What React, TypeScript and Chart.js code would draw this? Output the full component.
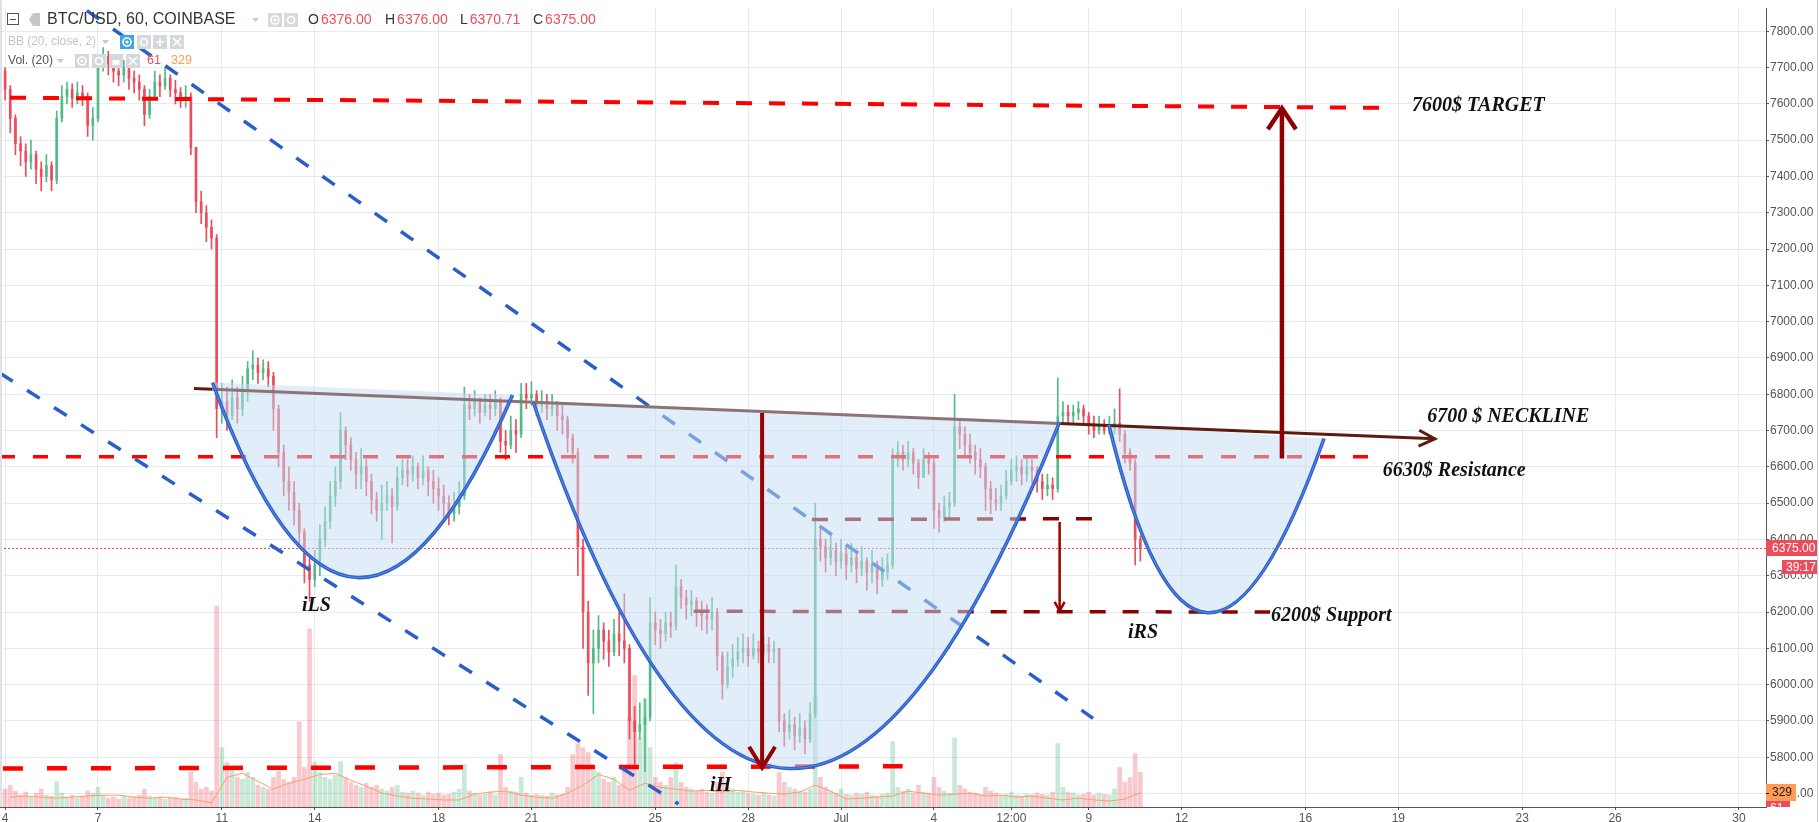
import React, { useEffect, useRef } from 'react';
import { Chart, registerables } from 'chart.js';

Chart.register(...registerables);

// ---------------- data ----------------
// time unit: days after Jun 1 00:00; 4-hour candles
const START_DAY = 17 / 6; // Jun 3 20:00
const BAR_DAYS = 1 / 6;
const FIRST_OPEN = 7700;

const closes = [
  7690, 7640, 7560, 7490, 7470, 7440, 7460, 7420, 7400, 7430, 7390,
  7560, 7620, 7640, 7615, 7630, 7620, 7540, 7560,
  7700, 7730, 7710, 7690, 7680, 7700, 7670, 7660, 7640, 7570, 7620, 7660, 7650, 7670, 7640, 7630, 7610, 7620,
  7480, 7330, 7300, 7260, 7230, 6760, 6780, 6740, 6790, 6760, 6810, 6870, 6880, 6860, 6870, 6850,
  6760, 6640, 6560, 6530, 6480, 6420, 6330, 6290, 6330, 6400, 6450, 6520, 6560,
  6700, 6660, 6620, 6580, 6600, 6560, 6510, 6480, 6500, 6520, 6490, 6570, 6590, 6580, 6600, 6570, 6590, 6560, 6540, 6520, 6500, 6470, 6490, 6520,
  6770, 6760, 6780, 6750, 6770, 6760, 6780, 6670, 6660, 6700, 6690, 6800, 6790, 6800, 6770, 6780, 6760, 6770, 6740, 6730, 6680,
  6640, 6380, 6200, 6060, 6100, 6150, 6120, 6090, 6140, 6120, 6100, 5900, 5870, 5890, 5910, 6170, 6150, 6140, 6170, 6160,
  6270, 6240, 6220, 6230, 6200, 6190, 6180, 6200, 6080, 6000, 6050, 6070, 6090, 6100, 6080, 6100, 6090, 6110, 6090, 6100, 5900, 5870, 5890, 5860, 5880, 5850, 5920,
  6400, 6380, 6350, 6370, 6340, 6360, 6330, 6350, 6320, 6340, 6310, 6330, 6290, 6310, 6330,
  6620, 6640, 6620, 6640, 6610, 6570, 6620, 6610, 6480, 6460, 6490, 6500,
  6710, 6690, 6660, 6640, 6620, 6600, 6540, 6510, 6500, 6520, 6560, 6590, 6600, 6580, 6600, 6590, 6560, 6540, 6550, 6540,
  6740, 6750, 6740, 6750, 6760, 6740, 6720, 6700, 6710, 6700, 6710, 6720, 6690, 6640, 6610, 6400, 6375,
];

const highs = [
  7745, 7700, 7650, 7570, 7510, 7490, 7500, 7470, 7440, 7460, 7440,
  7580, 7650, 7660, 7655, 7660, 7650, 7630, 7590,
  7720, 7755, 7745, 7725, 7710, 7720, 7710, 7690, 7680, 7650, 7640, 7690, 7680, 7700, 7680, 7665, 7645, 7650,
  7630, 7480, 7360, 7320, 7280, 7240, 6830, 6820, 6840, 6820, 6850, 6890, 6920, 6900, 6895, 6890,
  6860, 6770, 6660, 6600, 6560, 6500, 6430, 6350, 6370, 6440, 6490, 6560, 6600,
  6750, 6710, 6680, 6640, 6650, 6620, 6580, 6530, 6550, 6560, 6540, 6600, 6620, 6620, 6630, 6610, 6630, 6600, 6590, 6570, 6550, 6520, 6530, 6560,
  6820, 6800, 6810, 6790, 6800, 6800, 6810, 6790, 6700, 6740, 6730, 6830, 6830, 6835, 6810, 6810, 6800, 6800, 6780, 6770, 6740,
  6690, 6650, 6400, 6230, 6150, 6190, 6170, 6150, 6180, 6200, 6250, 6110, 5940, 5950, 5960, 6240, 6200, 6180, 6200, 6200,
  6330, 6290, 6260, 6260, 6240, 6230, 6220, 6240, 6210, 6090, 6090, 6110, 6130, 6140, 6130, 6140, 6120, 6135, 6130, 6120, 6100, 5920, 5930, 5910, 5920, 5900, 5950,
  6500, 6430, 6400, 6410, 6390, 6400, 6380, 6390, 6370, 6380, 6350, 6370, 6340, 6350, 6360,
  6650, 6670, 6660, 6670, 6650, 6620, 6650, 6640, 6620, 6500, 6520, 6530,
  6800, 6730, 6710, 6690, 6660, 6650, 6610, 6560, 6540, 6550, 6590, 6620, 6630, 6620, 6630, 6620, 6600, 6580, 6580, 6570,
  6845, 6780, 6770, 6770, 6780, 6770, 6750, 6740, 6740, 6730, 6740, 6760, 6815, 6700, 6650, 6620, 6410,
];

const lows = [
  7660, 7610, 7520, 7460, 7430, 7400, 7420, 7380, 7360, 7385, 7360,
  7380, 7550, 7600, 7590, 7600, 7595, 7510, 7500,
  7550, 7690, 7680, 7660, 7650, 7660, 7640, 7630, 7610, 7540, 7560, 7620, 7620, 7640, 7620, 7600, 7590, 7590,
  7460, 7300, 7270, 7220, 7200, 6680, 6720, 6700, 6730, 6720, 6740, 6780, 6840, 6830, 6840, 6820,
  6700, 6600, 6520, 6480, 6440, 6380, 6280, 6230, 6270, 6300, 6380, 6430, 6490,
  6540, 6620, 6590, 6540, 6540, 6520, 6470, 6450, 6400, 6480, 6390, 6480, 6550, 6545, 6560, 6540, 6550, 6520, 6500, 6480, 6460, 6440, 6450, 6470,
  6510, 6730, 6740, 6720, 6740, 6730, 6740, 6640, 6620, 6650, 6640, 6680, 6760, 6770, 6740, 6750, 6730, 6740, 6700, 6690, 6640,
  6610, 6300, 6100, 5970, 5920, 6060, 6070, 6050, 6080, 6080, 6060, 5850, 5780, 5850, 5760, 5900, 6110, 6100, 6120, 6130,
  6150, 6210, 6180, 6190, 6160, 6150, 6140, 6150, 6040, 5960, 5990, 6020, 6050, 6060, 6050, 6070, 6060, 6080, 6060, 6060, 5870, 5830, 5850, 5820, 5840, 5810, 5840,
  5910, 6340, 6310, 6330, 6300, 6320, 6290, 6310, 6280, 6300, 6260, 6280, 6250, 6270, 6290,
  6320, 6600, 6590, 6600, 6580, 6540, 6570, 6580, 6430, 6420, 6450, 6460,
  6490, 6650, 6630, 6610, 6580, 6570, 6480, 6470, 6480, 6480, 6510, 6550, 6560, 6550, 6560, 6555, 6530, 6510, 6520, 6510,
  6530, 6720, 6720, 6720, 6730, 6720, 6690, 6680, 6690, 6690, 6690, 6690, 6670, 6610, 6590, 6330, 6340,
];

const volumes = [
  315, 405, 495, 360, 270, 340, 225, 315, 405, 270, 250,
  585,
  315, 225, 270, 200, 250, 360, 315,
  450,
  270, 200, 225, 180, 250, 200, 225, 270, 405, 250, 200, 225, 180, 200, 225, 180, 200,
  790,
  560, 405, 450, 360,
  4570,
  1350, 1010, 855, 675, 630, 790, 675, 495, 450, 405,
  675, 810, 630, 560, 675, 1935, 900,
  4050,
  1010, 790, 675, 630, 720,
  1035,
  675, 560, 495, 450, 540, 450, 495, 405, 360, 450, 495, 340, 315, 360, 315, 270, 340, 290, 315, 270, 290, 340, 405,
  970,
  360, 315, 270, 290, 340, 270,
  1190,
  450, 360, 340,
  675,
  315, 270, 290, 270, 250, 315, 270, 290, 450,
  1190,
  1440,
  1350, 1240, 900, 790, 630, 560, 675, 495, 900,
  2025,
  2990,
  1575, 2475, 1350,
  675, 560, 495, 675, 1010, 560, 450, 405, 360, 405, 340, 315, 560, 790, 450, 405, 340, 360, 315, 290, 270, 315, 270, 250, 790, 560, 450, 405, 360, 340, 405,
  2540,
  675, 450, 360, 315, 405, 290, 270, 315, 290, 340, 270, 250, 290, 315,
  1485,
  450, 360, 405, 315, 495, 340, 315, 675, 450, 360, 315,
  1575,
  495, 405, 340, 315, 290, 450, 360, 315, 270, 290, 340, 270, 250, 290, 270, 315, 290, 270, 340,
  1440,
  450, 340, 315, 270, 290, 340, 270, 315, 290, 270, 405,
  900,
  560, 675, 1215, 790,
];

// Vol MA(20), read every 3rd candle starting at candle 2
const VOL_MA_FIRST = 2;
const VOL_MA_EVERY = 3;
const volMA = [
  225, 250, 225, 200, 225, 250, 270, 270, 225, 200, 225, 180, 160, 90,
  675, 765, 585, 405, 540, 630, 740, 765, 610, 470, 315, 250, 200, 180, 160, 160,
  290, 340, 360, 270, 225, 200, 315, 495, 740, 630, 380, 540, 450, 405, 360, 380,
  340, 380, 340, 315, 290, 340, 495, 360, 180, 200, 225, 250, 360, 315, 270, 290,
  315, 250, 270, 225, 250, 200, 160, 200, 160, 135, 180, 329,
];

const LAST_PRICE = 6375;
const LAST_VOL = 61;
const LAST_VOL_MA = 329;
const COUNTDOWN = '39:17';

const priceTicks = [
  5700, 5800, 5900, 6000, 6100, 6200, 6300, 6400, 6500, 6600, 6700,
  6800, 6900, 7000, 7100, 7200, 7300, 7400, 7500, 7600, 7700, 7800,
];
const dayTicks = [3, 6, 10, 13, 17, 20, 24, 27, 30, 33, 35.5, 38, 41, 45, 48, 52, 55, 59];
const dayTickLabels = ['4', '7', '11', '14', '18', '21', '25', '28', 'Jul', '4', '12:00', '9', '12', '16', '19', '23', '26', '30'];

const SYMBOL = 'BTC/USD, 60, COINBASE';
const ohlcLetters = ['O', 'H', 'L', 'C'];
const ohlcValues = ['6376.00', '6376.00', '6370.71', '6375.00'];
const BB_TITLE = 'BB (20, close, 2)';
const VOL_TITLE = 'Vol. (20)';

// ---------------- drawings (day, price) ----------------
const targetLevel = [[3.16, 7617], [47.41, 7589]];
const resistanceLevel = [[2.835, 6628], [47.05, 6628]];
const floorLevel = [[2.93, 5769], [31.99, 5775]];
const midLevel = [[29.06, 6455], [38.14, 6457]];
const supportLevel = [[25.24, 6202], [43.86, 6200]];
const upperTrend = [[5.64, 7857], [38.14, 5907]];
const lowerTrend = [[2.835, 6858], [24.75, 5671]];
const neckline = [[9.1, 6816], [49.18, 6677]];
const necklineFadedSpan = [9.7, 37.06];
const curveLS = [[9.7, 6832], [14.2, 5775], [19.39, 6798]];
const curveHead = [[20.06, 6778], [28.02, 4787], [37.06, 6724]];
const curveRS = [[38.65, 6716], [41.52, 5699], [45.6, 6678]];
const headArrow = [[27.45, 6748], [27.45, 5771]];
const smallArrow = [[37.06, 6448], [37.06, 6203]];
const targetArrow = [[44.24, 6623], [44.24, 7588]];
const textLabels = [
  { text: '7600$ TARGET', at: [48.44, 7594] },
  { text: '6700 $ NECKLINE', at: [48.93, 6738] },
  { text: '6630$ Resistance', at: [47.5, 6589] },
  { text: '6200$ Support', at: [43.89, 6189] },
  { text: 'iLS', at: [12.59, 6216] },
  { text: 'iH', at: [25.77, 5720] },
  { text: 'iRS', at: [39.27, 6143] },
];

// ---------------- layout / style ----------------
const W = 1819;
const H = 822;
const X_MIN = 2.835;
const X_MAX = 59.875;
const Y_MIN = 5662.8;
const Y_MAX = 7863.5;
const VOL_MAX = 18160;
const UP = '#53b987';
const DOWN = '#eb4d5c';
const GRID = '#e4ebf1';
const AXIS = '#555555';
const SANS = '"Liberation Sans", Arial, sans-serif';
const SERIF = '"Liberation Serif", "Times New Roman", serif';

type P = number[];

const drawingsPlugin = {
  id: 'drawings',
  afterDatasetsDraw(chart: any) {
    const { ctx, chartArea: a } = chart;
    const sx = chart.scales.x;
    const sy = chart.scales.y;
    const X = (d: number) => sx.getPixelForValue(d);
    const Y = (p: number) => sy.getPixelForValue(p);
    ctx.save();
    ctx.beginPath();
    ctx.rect(a.left, a.top, a.right - a.left, a.bottom - a.top);
    ctx.clip();

    const seg = (p0: P, p1: P, color: string, width: number, dash: number[]) => {
      ctx.beginPath();
      ctx.setLineDash(dash);
      ctx.lineDashOffset = 0;
      ctx.strokeStyle = color;
      ctx.lineWidth = width;
      ctx.lineCap = 'butt';
      ctx.moveTo(X(p0[0]), Y(p0[1]));
      ctx.lineTo(X(p1[0]), Y(p1[1]));
      ctx.stroke();
    };

    // last price dotted line
    seg([X_MIN, LAST_PRICE], [X_MAX, LAST_PRICE], DOWN, 1, [2, 2]);

    // horizontal levels
    seg(targetLevel[0], targetLevel[1], '#ff0000', 4, [16, 17]);
    seg(resistanceLevel[0], resistanceLevel[1], '#ff0000', 3.5, [15, 18]);
    seg(floorLevel[0], floorLevel[1], '#ff0000', 4.5, [20, 24]);
    seg(midLevel[0], midLevel[1], '#8b0000', 3.5, [16, 17]);
    seg(supportLevel[0], supportLevel[1], '#8b0000', 3.5, [16, 17]);
    // trend lines
    seg(upperTrend[0], upperTrend[1], '#2a5ec9', 3.5, [15, 17]);
    seg(lowerTrend[0], lowerTrend[1], '#2a5ec9', 3.5, [15, 17]);

    ctx.setLineDash([]);
    const curvePath = (c: P[]) => {
      ctx.beginPath();
      ctx.moveTo(X(c[0][0]), Y(c[0][1]));
      ctx.quadraticCurveTo(X(c[1][0]), Y(c[1][1]), X(c[2][0]), Y(c[2][1]));
    };
    // fills
    for (const c of [curveLS, curveHead, curveRS]) {
      curvePath(c);
      ctx.closePath();
      ctx.fillStyle = 'rgba(198,221,243,0.52)';
      ctx.fill();
    }

    // neckline
    const nAt = (d: number) => {
      const [a0, a1] = neckline;
      return a0[1] + ((a1[1] - a0[1]) * (d - a0[0])) / (a1[0] - a0[0]);
    };
    const f0 = necklineFadedSpan[0];
    const f1 = necklineFadedSpan[1];
    seg(neckline[0], [f0, nAt(f0)], '#5e1c10', 3, []);
    seg([f0, nAt(f0)], [f1, nAt(f1)], '#8d7474', 3, []);
    seg([f1, nAt(f1)], neckline[1], '#5e1c10', 3, []);
    const chevron = (from: P, to: P, len: number, half: number, color: string, width: number) => {
      const x0 = X(from[0]), y0 = Y(from[1]), x1 = X(to[0]), y1 = Y(to[1]);
      const L = Math.hypot(x1 - x0, y1 - y0);
      const ux = (x1 - x0) / L, uy = (y1 - y0) / L;
      const nx = -uy, ny = ux;
      ctx.beginPath();
      ctx.setLineDash([]);
      ctx.strokeStyle = color;
      ctx.lineWidth = width;
      ctx.lineCap = 'butt';
      ctx.lineJoin = 'miter';
      ctx.moveTo(x1 - ux * len + nx * half, y1 - uy * len + ny * half);
      ctx.lineTo(x1, y1);
      ctx.lineTo(x1 - ux * len - nx * half, y1 - uy * len - ny * half);
      ctx.stroke();
    };
    chevron(neckline[0], neckline[1], 16, 8, '#5e1c10', 3);

    // curve strokes
    for (const c of [curveLS, curveHead, curveRS]) {
      curvePath(c);
      ctx.strokeStyle = '#2e61cc';
      ctx.lineWidth = 3.6;
      ctx.stroke();
      curvePath(c);
      ctx.strokeStyle = 'rgba(120,165,232,0.6)';
      ctx.lineWidth = 1;
      ctx.stroke();
    }

    // arrows
    const arrow = (ar: P[], color: string, width: number, len: number, half: number) => {
      seg(ar[0], ar[1], color, width, []);
      chevron(ar[0], ar[1], len, half, color, width);
    };
    arrow(headArrow, '#990000', 4, 21, 13);
    arrow(smallArrow, '#990000', 2.5, 9, 5);
    arrow(targetArrow, '#8f0000', 4.5, 21, 14);

    // text labels
    ctx.fillStyle = '#111111';
    ctx.font = `italic bold 20px ${SERIF}`;
    ctx.textBaseline = 'middle';
    ctx.textAlign = 'left';
    for (const t of textLabels) {
      ctx.fillText(t.text, X(t.at[0]), Y(t.at[1]));
    }
    ctx.restore();
  },
  afterDraw(chart: any) {
    const { ctx, chartArea: a } = chart;
    const sy = chart.scales.y;
    const sv = chart.scales.yVol;
    ctx.save();
    // panel edges
    ctx.fillStyle = '#dfe3e8';
    ctx.fillRect(0, 0, 2, a.bottom);
    ctx.fillStyle = '#c9ccd1';
    ctx.fillRect(W - 2, 0, 1, H);

    // price label boxes
    ctx.font = `12px ${SANS}`;
    ctx.textBaseline = 'middle';
    ctx.textAlign = 'left';
    const yl = Math.round(sy.getPixelForValue(LAST_PRICE));
    ctx.fillStyle = DOWN;
    ctx.fillRect(a.right, yl - 8, 51, 16);
    ctx.fillStyle = '#ffffff';
    ctx.fillText(LAST_PRICE.toFixed(2), a.right + 6, yl + 0.5);
    ctx.fillStyle = DOWN;
    ctx.fillRect(a.right + 16, yl + 12, 35, 14);
    ctx.fillStyle = '#ffffff';
    ctx.fillText(COUNTDOWN, a.right + 20, yl + 19.5);

    // volume label boxes
    ctx.save();
    ctx.beginPath();
    ctx.rect(a.right, 0, 60, a.bottom);
    ctx.clip();
    const yv = sv.getPixelForValue(LAST_VOL);
    ctx.fillStyle = DOWN;
    ctx.fillRect(a.right, yv - 4, 24, 16);
    ctx.fillStyle = '#ffffff';
    ctx.fillText(String(LAST_VOL), a.right + 4, yv + 4);
    const ym = Math.round(sv.getPixelForValue(LAST_VOL_MA));
    ctx.fillStyle = '#ff9b57';
    ctx.fillRect(a.right, ym - 9, 30, 17);
    ctx.fillStyle = '#1e1e1e';
    ctx.fillText(String(LAST_VOL_MA), a.right + 6, ym);
    ctx.fillRect(a.right, ym, 3, 1);
    ctx.restore();

    // ---- header ----
    const tri = (x: number, y: number) => {
      ctx.fillStyle = '#c6c8cc';
      ctx.beginPath();
      ctx.moveTo(x, y - 2);
      ctx.lineTo(x + 7, y - 2);
      ctx.lineTo(x + 3.5, y + 2);
      ctx.closePath();
      ctx.fill();
    };
    const iconBox = (x: number, y: number, color: string, glyph: string) => {
      ctx.fillStyle = color;
      ctx.fillRect(x, y, 14, 14);
      ctx.strokeStyle = '#ffffff';
      ctx.fillStyle = '#ffffff';
      ctx.lineWidth = 1.6;
      const cx = x + 7, cy = y + 7;
      ctx.beginPath();
      if (glyph === 'eye') {
        ctx.arc(cx, cy, 4, 0, Math.PI * 2);
        ctx.stroke();
        ctx.beginPath();
        ctx.arc(cx, cy, 1.6, 0, Math.PI * 2);
        ctx.fill();
      } else if (glyph === 'gear') {
        ctx.arc(cx, cy, 3.5, 0, Math.PI * 2);
        ctx.stroke();
      } else if (glyph === 'plus') {
        ctx.moveTo(cx - 4, cy); ctx.lineTo(cx + 4, cy);
        ctx.moveTo(cx, cy - 4); ctx.lineTo(cx, cy + 4);
        ctx.stroke();
      } else if (glyph === 'x') {
        ctx.moveTo(cx - 4, cy - 4); ctx.lineTo(cx + 4, cy + 4);
        ctx.moveTo(cx + 4, cy - 4); ctx.lineTo(cx - 4, cy + 4);
        ctx.stroke();
      } else if (glyph === 'lock') {
        ctx.rect(cx - 3.5, cy - 1, 7, 5);
        ctx.fill();
      }
    };

    // collapse box
    ctx.strokeStyle = '#555';
    ctx.lineWidth = 1;
    ctx.strokeRect(7.5, 13.5, 11, 11);
    ctx.beginPath();
    ctx.moveTo(10, 19.5);
    ctx.lineTo(16, 19.5);
    ctx.stroke();
    // flag
    ctx.fillStyle = '#c4c7cc';
    ctx.beginPath();
    ctx.moveTo(29, 19.5);
    ctx.lineTo(33, 13);
    ctx.lineTo(40, 13);
    ctx.lineTo(40, 26);
    ctx.lineTo(33, 26);
    ctx.closePath();
    ctx.fill();

    ctx.textBaseline = 'middle';
    ctx.textAlign = 'left';
    ctx.font = `16px ${SANS}`;
    ctx.fillStyle = '#333333';
    ctx.fillText(SYMBOL, 47, 20, 199);
    tri(252, 20);
    iconBox(268, 13, '#d8dadd', 'eye');
    iconBox(284, 13, '#d8dadd', 'gear');
    const ohlcX = [308, 385, 460, 533];
    ctx.font = `14px ${SANS}`;
    ohlcLetters.forEach((L, i) => {
      ctx.fillStyle = '#333333';
      ctx.fillText(L, ohlcX[i], 20);
      const w = ctx.measureText(L).width;
      ctx.fillStyle = DOWN;
      ctx.fillText(ohlcValues[i], ohlcX[i] + w + 2, 20);
    });

    // BB row
    ctx.font = `12.5px ${SANS}`;
    ctx.fillStyle = '#c2c4c8';
    ctx.fillText(BB_TITLE, 8, 42, 88);
    tri(102, 42);
    iconBox(120, 35, '#3ea6df', 'eye');
    iconBox(137, 35, '#d6d9dc', 'gear');
    iconBox(153, 35, '#d6d9dc', 'plus');
    iconBox(170, 35, '#d6d9dc', 'x');

    // Volume row
    ctx.font = `12.5px ${SANS}`;
    ctx.fillStyle = '#555555';
    ctx.fillText(VOL_TITLE, 8, 61, 45);
    tri(57, 61);
    iconBox(75, 54, '#d6d9dc', 'eye');
    iconBox(92, 54, '#d6d9dc', 'gear');
    iconBox(109, 54, '#d6d9dc', 'lock');
    iconBox(126, 54, '#d6d9dc', 'x');
    ctx.fillStyle = DOWN;
    ctx.fillText(String(LAST_VOL), 147, 61);
    ctx.fillStyle = '#ff9b57';
    ctx.fillText(String(LAST_VOL_MA), 171, 61);
    ctx.restore();
  },
};

export default function App() {
  const ref = useRef<HTMLCanvasElement>(null);
  useEffect(() => {
    document.body.style.margin = '0';
    const days = closes.map((_, i) => START_DAY + i * BAR_DAYS);
    const opens = closes.map((_, i) => (i === 0 ? FIRST_OPEN : closes[i - 1]));
    const isUp = closes.map((c, i) => c >= opens[i]);
    const candleColors = isUp.map((u) => (u ? UP : DOWN));
    const volColors = isUp.map((u) => (u ? 'rgba(83,185,135,0.32)' : 'rgba(235,77,92,0.3)'));

    const chart = new Chart(ref.current as HTMLCanvasElement, {
      type: 'bar',
      data: {
        datasets: [
          {
            type: 'bar',
            data: volumes.map((v, i) => ({ x: days[i], y: v })),
            yAxisID: 'yVol',
            backgroundColor: volColors,
            borderWidth: 0,
            barThickness: 4,
            grouped: false,
            order: 10,
          } as any,
          {
            type: 'line',
            data: volMA.map((m, k) => ({ x: days[VOL_MA_FIRST + k * VOL_MA_EVERY], y: m })),
            yAxisID: 'yVol',
            borderColor: '#f9a062',
            borderWidth: 1,
            pointRadius: 0,
            tension: 0,
            order: 9,
          } as any,
          {
            type: 'bar',
            data: lows.map((l, i) => ({ x: days[i], y: [l, highs[i]] })),
            yAxisID: 'y',
            backgroundColor: candleColors,
            borderWidth: 0,
            barThickness: 1,
            grouped: false,
            order: 2,
          } as any,
          {
            type: 'bar',
            data: closes.map((c, i) => ({ x: days[i], y: [opens[i], c] })),
            yAxisID: 'y',
            backgroundColor: candleColors,
            borderWidth: 0,
            barThickness: 2,
            grouped: false,
            order: 1,
          } as any,
        ],
      },
      options: {
        responsive: false,
        animation: false,
        devicePixelRatio: 1,
        layout: { padding: 0 },
        plugins: { legend: { display: false }, tooltip: { enabled: false } },
        scales: {
          x: {
            type: 'linear',
            min: X_MIN,
            max: X_MAX,
            offset: false,
            afterBuildTicks: (s: any) => {
              s.ticks = dayTicks.map((v) => ({ value: v }));
            },
            afterFit: (s: any) => {
              s.height = 15;
            },
            ticks: {
              autoSkip: false,
              maxRotation: 0,
              minRotation: 0,
              padding: 1,
              color: AXIS,
              font: { size: 12, family: SANS },
              callback: (_v: any, i: number) => dayTickLabels[i],
            },
            grid: { color: GRID, tickColor: AXIS, tickLength: 3, offset: false },
            border: { color: AXIS, width: 1 },
          },
          y: {
            type: 'linear',
            position: 'right',
            min: Y_MIN,
            max: Y_MAX,
            afterBuildTicks: (s: any) => {
              s.ticks = priceTicks.map((v) => ({ value: v }));
            },
            afterFit: (s: any) => {
              s.width = 53;
            },
            ticks: {
              padding: 1,
              color: AXIS,
              font: { size: 12, family: SANS },
              callback: (v: any) => Number(v).toFixed(2),
            },
            grid: { color: GRID, tickColor: AXIS, tickLength: 3 },
            border: { color: AXIS, width: 1 },
          },
          yVol: { type: 'linear', display: false, min: 0, max: VOL_MAX },
        },
      } as any,
      plugins: [drawingsPlugin],
    });
    return () => chart.destroy();
  }, []);
  return <canvas ref={ref} width={W} height={H} style={{ display: 'block', width: W, height: H }} />;
}
